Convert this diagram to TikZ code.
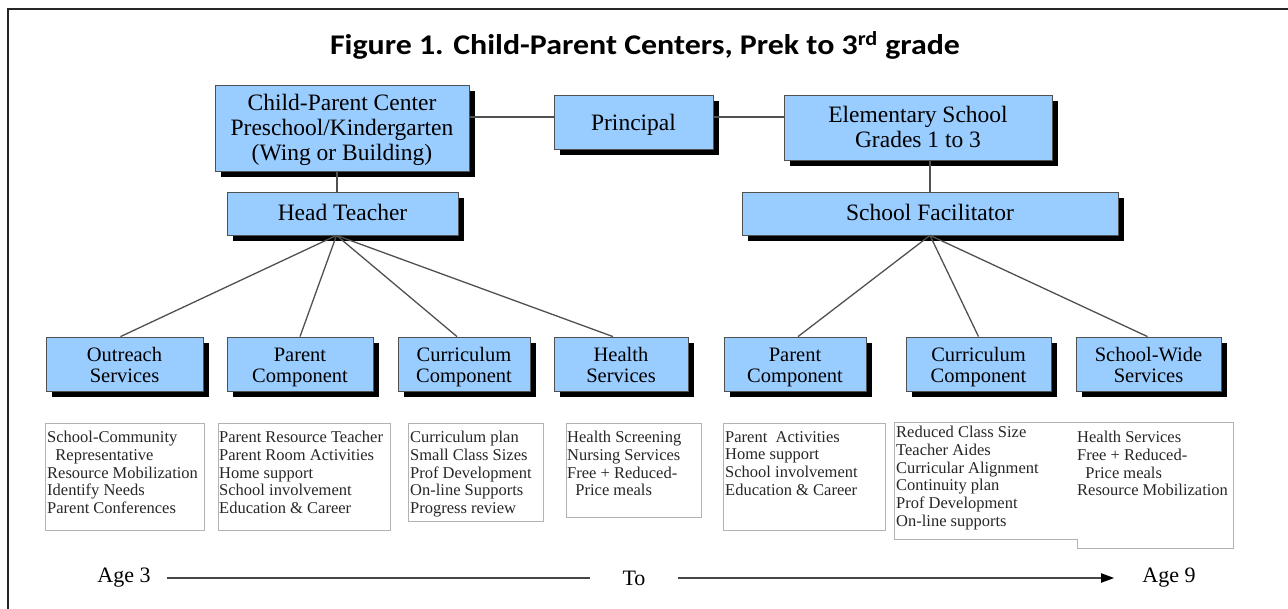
\documentclass[tikz,border=0pt]{standalone}
\usepackage{fontspec}
\usepackage{graphicx}
\setmainfont{Liberation Serif}
\newfontfamily\titlefont{Carlito}
\usetikzlibrary{shadows,arrows.meta,calc}
\definecolor{boxblue}{RGB}{153,204,255}
\definecolor{edgegray}{RGB}{80,80,80}
\newcommand{\tstrut}{\rule{0pt}{21pt}}
\newcommand{\pstrut}{\rule{0pt}{24pt}}
\newcommand{\lstrut}{\rule{0pt}{23pt}}
\newcommand{\dstrut}{\rule[-6pt]{0pt}{6pt}}
\tikzset{
  orgbox/.style={draw=edgegray, fill=boxblue, line width=0.8pt, align=center, inner sep=0pt,
    font=\fontsize{23.5}{25}\selectfont,
    drop shadow={shadow xshift=6pt, shadow yshift=-6pt, fill=black, opacity=1}},
  lowbox/.style={orgbox, font=\fontsize{20.5}{21}\selectfont, minimum height=54pt},
  conn/.style={draw=edgegray, line width=1.3pt},
  listbox/.style={draw=gray!60, line width=0.8pt},
  listtext/.style={anchor=north west, align=left, inner sep=0pt, font=\fontsize{16.5}{17.7}\selectfont, text=black!85},
  agetext/.style={font=\fontsize{22}{24}\selectfont, inner sep=0pt},
  ageline/.style={draw=gray!55!black, line width=1.8pt}
}
\begin{document}
\begin{tikzpicture}[x=1pt,y=-1pt]
\useasboundingbox (0,0) rectangle (1288,609);
% frame
\draw[black!85, line width=2.2pt] (8,609) -- (8,9) -- (1288,9);
% title
\node[inner sep=0pt] (title) at (645,45) {\scalebox{1.12}[1]{\titlefont\bfseries\fontsize{28.5}{30}\selectfont Figure 1. Child-Parent Centers, Prek to 3\textsuperscript{rd} grade}};

% top level
\node[orgbox, minimum width=254pt, minimum height=86pt] (CPC) at (342,128) {\tstrut Child-Parent Center\\Preschool/Kindergarten\\(Wing or Building)\dstrut};
\node[orgbox, minimum width=159pt, minimum height=54pt] (Principal) at (633.5,122) {\pstrut Principal\dstrut};
\node[orgbox, minimum width=268pt, minimum height=65pt] (Elem) at (918,127.5) {\tstrut Elementary School\\Grades 1 to 3\dstrut};
\node[orgbox, minimum width=231pt, minimum height=43pt] (HT) at (342.5,213.5) {\tstrut Head Teacher\dstrut};
\node[orgbox, minimum width=376pt, minimum height=43pt] (SF) at (930,213.5) {\tstrut School Facilitator\dstrut};

% bottom level
\node[lowbox, minimum width=157pt] (Out) at (124.5,364) {\lstrut Outreach\\Services\dstrut};
\node[lowbox, minimum width=146pt] (ParL) at (300,364) {\lstrut Parent\\Component\dstrut};
\node[lowbox, minimum width=132pt] (CurL) at (464,364) {\lstrut Curriculum\\Component\dstrut};
\node[lowbox, minimum width=134pt] (Health) at (621,364) {\lstrut Health\\Services\dstrut};
\node[lowbox, minimum width=142pt] (ParR) at (795,364) {\lstrut Parent\\Component\dstrut};
\node[lowbox, minimum width=145pt] (CurR) at (978.5,364) {\lstrut Curriculum\\Component\dstrut};
\node[lowbox, minimum width=145pt] (SW) at (1148.5,364) {\lstrut School-Wide\\Services\dstrut};

% connectors
\coordinate (lvl) at (0,117);
\draw[conn] (CPC.east |- lvl) -- (Principal.west |- lvl);
\draw[conn] (Principal.east |- lvl) -- (Elem.west |- lvl);
\draw[conn] ([xshift=-5pt]CPC.south) -- ([xshift=-5pt]CPC.south |- HT.north);
\draw[conn] (SF.north |- Elem.south) -- (SF.north);
\coordinate (hfan) at ([xshift=-6pt]HT.south);
\coordinate (sfan) at (SF.south);
\draw[conn] (hfan) -- ([xshift=-4pt]Out.north);
\draw[conn] (hfan) -- (ParL.north);
\draw[conn] (hfan) -- ([xshift=-7pt]CurL.north);
\draw[conn] (hfan) -- ([xshift=-8pt]Health.north);
\draw[conn] (sfan) -- ([xshift=3pt]ParR.north);
\draw[conn] (sfan) -- (CurR.north);
\draw[conn] (sfan) -- ([xshift=-1pt]SW.north);

% list boxes
\draw[listbox] (45,423) rectangle (204,530);
\draw[listbox] (218,423) rectangle (390,530);
\draw[listbox] (408,423) rectangle (543,521);
\draw[listbox] (566,423) rectangle (701,517);
\draw[listbox] (723,423) rectangle (885,530);
\draw[listbox] (894,422) -- (1233,422) -- (1233,548) -- (1077,548) -- (1077,539) -- (894,539) -- cycle;

\node[listtext] (t1) at (47,431) {School-Community\\\hspace*{0.5em}Representative\\Resource Mobilization\\Identify Needs\\Parent Conferences};
\node[listtext] (t2) at (219,431) {Parent Resource Teacher\\Parent Room Activities\\Home support\\School involvement\\Education \& Career};
\node[listtext] (t3) at (410,431) {Curriculum plan\\Small Class Sizes\\Prof Development\\On-line Supports\\Progress review};
\node[listtext] (t4) at (567,431) {Health Screening\\Nursing Services\\Free + Reduced-\\\hspace*{0.5em}Price meals};
\node[listtext] (t5) at (725,431) {Parent\ \ Activities\\Home support\\School involvement\\Education \& Career};
\node[listtext] (t6) at (896,426) {Reduced Class Size\\Teacher Aides\\Curricular Alignment\\Continuity plan\\Prof Development\\On-line supports};
\node[listtext] (t7) at (1077,431) {Health Services\\Free + Reduced-\\\hspace*{0.5em}Price meals\\Resource Mobilization};

% age line
\node[agetext] (a3) at (124,578) {Age 3};
\node[agetext] (to) at (634,578) {To};
\node[agetext] (a9) at (1169,578) {Age 9};
\draw[ageline] ([xshift=16pt]a3.east) -- ([xshift=-32pt]to.west);
\draw[ageline, -{Triangle[length=13pt,width=9pt,color=black]}] ([xshift=32pt]to.east) -- ([xshift=-28pt]a9.west);
\end{tikzpicture}
\end{document}
